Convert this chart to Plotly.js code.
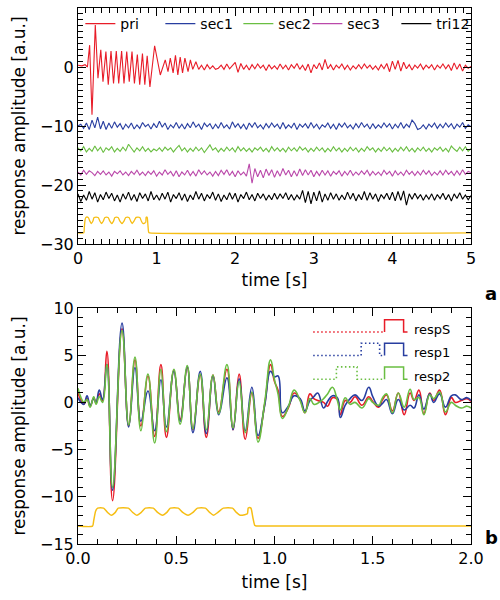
<!DOCTYPE html>
<html><head><meta charset="utf-8">
<script src="https://cdn.plot.ly/plotly-3.0.1.min.js"></script>
<style>html,body{margin:0;padding:0;background:#fff;} #chart{width:500px;height:600px;}</style>
</head><body><div id="chart"></div>
<script>
// ---------------- DATA (panel a) ----------------
const seriesNames = ['pri', 'sec1', 'sec2', 'sec3', 'tri12'];
const gridStep = 1 / 28;          // sampling step [s] of the panel-a traces
// pri: early transient read point by point
const priEarlyT = [0, 0.05, 0.09, 0.12, 0.148, 0.178, 0.22, 0.254, 0.29, 0.318, 0.355, 0.385, 0.42, 0.452, 0.487, 0.518, 0.555, 0.585, 0.62, 0.652, 0.687, 0.718, 0.755, 0.785, 0.82, 0.85, 0.88, 0.915, 0.975, 1.047, 1.11, 1.145, 1.174, 1.21, 1.24, 1.27, 1.30, 1.33, 1.36, 1.40, 1.43, 1.46];
const priEarlyV = [0.3, 0.2, 0.4, 0.0, 3.7, -8.1, 7.1, -1.9, 2.9, -2.5, 2.6, -3.0, 2.7, -2.8, 2.7, -2.8, 2.7, -2.8, 2.6, -2.5, 2.6, -2.8, 2.1, -3.0, 2.3, -3.0, 1.9, -3.4, 3.6, -1.35, 1.2, -0.8, 1.5, -1.0, 2.0, -1.35, 1.7, -1.0, 1.5, -0.8, 1.2, -0.4];
const priLateStart = 1.5;
const priLateV = [0.9, -0.4, 0.3, -0.5, 0.4, -0.3, 0.2, -0.4,
  -0.2, 0.3, -0.4, 0.5, -0.3, 0.2, 0.8, -0.9, 0.6, -0.4,
  0.3, -0.5, 0.4, -0.3, 0.5, -0.2, 0.3, -0.6, 0.4, -0.3,
  0.2, -0.4, 0.5, -0.3, 0.3, -0.5, 0.4, -0.2, 0.6, -0.4,
  0.3, -0.6, 0.5, -1.0, 0.4, -0.3, 0.7, -0.5, 1.3, -0.3,
  0.4, -0.5, 0.3, -0.2, 0.5, -0.4, 0.3, -0.5, 0.2, -0.3,
  0.4, -0.3, 0.5, -0.2, 0.3, -0.4, 0.2, -0.5, 0.4, -0.3,
  0.6, -0.8, 1.0, -0.4, 1.1, -0.7, 0.8, -0.3, 0.4, -0.5,
  0.3, -0.2, 0.5, -0.4, 0.3, -0.2, 0.4, -0.5, 0.3, -0.2,
  0.5, -0.3, 0.4, -0.6, 0.7, -0.4, 0.5, -0.7, 0.3, -0.2,
  0.1];
const sec1V = [0.0, 0.3, -0.4, 0.5, -0.6, 1.0, -0.3, 1.5, -0.5, 0.8,
  -0.6, 0.5, -0.4, 0.7, -0.2, 0.4, -0.6, 0.3, -0.3, 0.5,
  -0.5, 0.2, -0.4, 0.6, -0.1, 0.3, -0.5, 0.4, -0.3, 0.8,
  -0.2, 0.5, -0.6, 0.2, -0.3, 0.6, -0.4, 0.3, -0.5, 0.4,
  -0.3, 0.7, -0.2, 0.3, -0.6, 0.5, -0.1, 0.4, -0.5, 0.3,
  -0.4, 0.6, -0.3, 0.2, -0.5, 0.7, -0.2, 0.4, -0.4, 0.3,
  -0.6, 0.5, -0.2, 0.6, -0.3, 0.2, -0.5, 0.4, -0.3, 0.5,
  -0.2, 0.3, -0.5, 0.6, -0.4, 0.2, -0.3, 0.5, -0.6, 0.3,
  -0.2, 0.4, -0.4, 0.6, -0.3, 0.3, -0.5, 0.2, -0.2, 0.5,
  -0.4, 0.3, -0.6, 0.4, -0.2, 0.5, -0.3, 0.2, -0.5, 0.4,
  -0.3, 0.6, -0.2, 0.3, -0.5, 0.4, -0.4, 0.2, -0.3, 0.5,
  -0.2, 0.4, -0.5, 0.3, -0.3, 0.6, -0.4, 0.3, -0.2, 1.0,
  0.4, -0.6, -0.4, 0.2, -0.5, 0.3, -0.2, 0.5, -0.4, 0.3,
  -0.3, 0.5, -0.2, 0.4, -0.5, 0.3, -0.2, 0.6, -0.4, 0.2,
  -0.1];
const sec2V = [0.3, -0.2, 0.5, -0.4, 0.2, -0.3, 0.6, -0.2, 0.4, -0.5,
  0.3, -0.1, 0.5, -0.4, 0.2, -0.3, 0.4, -0.2, 0.9, 0.2,
  -0.4, 0.3, -0.2, 0.5, -0.3, 0.2, -0.4, 0.1, -0.2, 0.3,
  -0.3, 0.4, -0.1, 0.3, -0.4, 0.2, 0.7, -0.2, 0.3, -0.4,
  0.2, -0.3, 0.4, -0.2, 0.3, -0.5, 0.2, 0.8, -0.1, 0.3,
  -0.4, 0.2, -0.3, 0.4, -0.2, 0.3, -0.4, 0.5, -0.2, 0.3,
  -0.3, 0.2, -0.4, 0.3, -0.1, 0.4, -0.3, 0.2, -0.4, 0.5,
  -0.2, 0.3, -0.3, 0.2, -0.4, 0.4, -0.2, 0.3, -0.3, 0.5,
  -0.1, 0.3, -0.4, 0.2, -0.3, 0.4, -0.2, 0.3, -0.4, 0.2,
  -0.3, 0.5, -0.2, 0.3, -0.4, 0.2, -0.3, 0.4, -0.2, 0.3,
  -0.4, 0.2, -0.3, 0.5, -0.1, 0.3, -0.4, 0.2, -0.3, 0.4,
  -0.2, 0.3, -0.4, 0.2, -0.3, 0.4, -0.2, 0.5, -0.3, 0.2,
  -0.4, 0.3, -0.2, 0.4, -0.3, 0.2, -0.4, 0.3, -0.1, 0.4,
  -0.3, 0.2, -0.4, 0.6, 0.1, -0.3, 0.4, -0.2, 0.5, -0.3,
  0.2];
const sec3V = [0.2, -0.3, 0.5, -0.2, 0.4, 0.1, -0.4, 0.3, -0.2, 0.4,
  -0.3, 0.2, -0.5, 0.3, -0.1, 0.4, -0.3, 0.2, -0.4, 0.3,
  -0.2, 0.5, -0.3, 0.2, -0.4, 0.3, -0.2, 0.4, -0.5, 0.2,
  -0.3, 0.6, -0.2, 0.3, -0.5, 0.4, -0.6, 0.2, -0.3, 0.5,
  -0.4, 0.3, -0.5, 0.6, -0.2, 0.4, -0.3, 0.2, -0.5, 0.3,
  -0.4, 0.5, -0.2, 0.6, -0.4, 0.3, -0.6, 0.4, -0.3, 0.2,
  -0.5, 1.6, -1.7, 0.8, -0.6, 0.5, -0.8, 0.7, -0.4, 0.6,
  -0.7, 0.4, -0.5, 0.8, -0.3, 0.5, -0.6, 0.4, -0.5, 0.7,
  -0.4, 0.6, -0.3, 0.5, -0.6, 0.3, -0.4, 0.5, -0.3, 0.4,
  -0.5, 0.3, -0.2, 0.4, -0.5, 0.3, -0.3, 0.5, -0.4, 0.2,
  -0.3, 0.4, -0.2, 0.5, -0.4, 0.3, -0.3, 0.2, -0.4, 0.5,
  -0.2, 0.3, -0.5, 0.4, -0.3, 0.2, -0.4, 0.5, -0.2, 0.3,
  -0.4, 0.3, -0.3, 0.5, -0.2, 0.4, -0.4, 0.2, -0.3, 0.4,
  -0.3, 0.5, -0.2, 0.3, -0.4, 0.4, -0.3, 0.6, -0.2, 0.3,
  0.1];
const tri12V = [0.5, -0.8, 0.3, -0.6, 0.9, -0.4, 0.7, -0.9, 0.4, -0.5,
  0.8, -0.3, 0.6, -0.7, 0.3, -0.9, 0.5, -0.4, 0.8, -0.6,
  0.4, -0.8, 0.7, -0.3, 0.5, -0.7, 0.9, -0.5, 0.3, -0.6,
  0.6, -0.4, 0.8, -0.9, 0.4, -0.3, 0.7, -0.6, 0.5, -0.8,
  0.3, -0.5, 0.9, -0.4, 0.6, -0.7, 0.4, -0.3, 0.8, -0.6,
  0.5, -0.8, 0.3, -0.5, 0.7, -0.4, 0.6, -0.9, 0.4, -0.3,
  0.8, -0.5, 0.4, -0.7, 0.6, -0.3, 0.5, -0.6, 0.3, -0.5,
  0.6, -0.4, 0.5, -0.3, 0.7, -0.5, 0.4, -0.6, 0.3, -0.4,
  1.1, -1.0, 0.9, -1.2, 0.8, -0.7, 1.0, -0.9, 0.5, -0.6,
  0.7, -0.4, 0.5, -0.6, 0.3, -0.5, 0.8, -0.4, 0.6, -0.7,
  0.4, -0.5, 0.9, -0.6, 0.7, -0.4, 0.5, -0.8, 0.4, -0.3,
  0.6, -0.5, 0.8, -0.7, 0.9, -0.6, 1.0, -1.4, 0.5, -0.4,
  0.6, -0.3, 0.4, -0.6, 0.3, -0.4, 0.5, -0.6, 0.4, -0.3,
  0.6, -0.5, 0.4, -0.7, 0.5, -0.3, 0.7, -0.4, 0.3, -0.5,
  0.2];
// stimulus waveform (relative amplitude, a.u. of panel b)
const stimT = [0, 0.074, 0.080, 0.090, 0.100, 0.130, 0.150, 0.170, 0.190, 0.205, 0.256, 0.278, 0.300, 0.322, 0.343, 0.383, 0.405, 0.430, 0.452, 0.470, 0.510, 0.533, 0.560, 0.585, 0.608, 0.648, 0.670, 0.690, 0.712, 0.740, 0.786, 0.806, 0.825, 0.848, 0.862, 0.866, 0.870, 0.880, 0.890, 0.900, 0.910, 5.0];
const stimV = [0, 0, 0.6, 1.6, 1.9, 1.9, 1.45, 1.15, 1.45, 1.9, 1.9, 1.45, 1.15, 1.45, 1.9, 1.9, 1.45, 1.15, 1.45, 1.9, 1.9, 1.45, 1.15, 1.45, 1.9, 1.9, 1.45, 1.15, 1.45, 1.9, 1.9, 1.45, 1.15, 1.2, 1.3, 1.9, 1.95, 1.9, 0.9, 0.05, 0, 0];

// ---------------- DATA (panel b) ----------------
const respNames = ['respS', 'resp1', 'resp2'];
const respT = [0, 0.015, 0.03, 0.046, 0.062, 0.08, 0.092, 0.108, 0.125, 0.147, 0.176, 0.224, 0.258, 0.29, 0.32, 0.356, 0.39, 0.422, 0.45, 0.488, 0.52, 0.556, 0.585, 0.622, 0.653, 0.687, 0.716, 0.758, 0.789, 0.82, 0.851, 0.885, 0.916, 0.95, 0.98, 1.0, 1.018, 1.04, 1.07, 1.1, 1.13, 1.155, 1.18, 1.2, 1.22, 1.25, 1.27, 1.295, 1.32, 1.335, 1.36, 1.385, 1.41, 1.445, 1.48, 1.5, 1.53, 1.55, 1.57, 1.6, 1.63, 1.66, 1.69, 1.71, 1.735, 1.76, 1.79, 1.81, 1.84, 1.87, 1.9, 1.92, 1.95, 1.98, 2.0];
const respSV = [1.0, 0.2, -0.2, 0.4, -0.4, 0.5, -0.1, 0.9, 0.2, 5.4, -10.4, 7.8, -2.5, 4.5, -2.5, 2.8, -3.6, 4.0, -3.7, 3.4, -1.8, 3.7, -2.9, 2.9, -3.7, 2.9, -1.0, 3.5, -2.9, 3.0, -3.9, 1.0, -3.8, -0.2, 4.0, 2.2, 1.3, -1.5, -0.6, 1.0, 0.3, -1.1, 0.9, 0.4, 0.2, 0.0, -0.4, 0.5, 0.3, -1.3, 0.2, 0.0, 0.6, -0.3, 0.6, 0.1, -0.5, 0.3, 0.8, -0.9, 1.0, -1.3, 1.0, 0.2, 1.3, -1.2, 1.0, 0.2, 1.3, -1.3, 0.5, 0.0, 0.2, 0.4, 0.1];
const resp1V = [0.5, 0.0, -0.2, 0.7, -0.3, 0.4, 0.0, 1.3, 0.3, 4.0, -9.3, 8.4, -2.6, 3.7, -2.0, 1.2, -3.0, 2.4, -2.6, 3.3, -2.0, 3.8, -3.2, 3.3, -3.3, 2.8, -1.3, 2.6, -2.9, 2.5, -3.0, 1.6, -3.5, -0.3, 3.3, 2.7, 2.8, -1.1, -0.4, 0.7, 0.4, -0.9, 0.2, 0.6, 1.0, -0.6, 0.1, 0.7, 0.5, -1.6, -0.3, 0.4, 0.8, 0.2, 1.6, 0.6, -0.4, -0.1, 0.3, -1.2, 0.3, -0.8, -0.3, -0.6, 0.8, -0.7, 0.9, 0.0, 0.9, -0.5, 0.7, 0.8, 0.3, 0.5, 0.2];
const resp2V = [1.5, 0.5, 0.0, 0.3, -0.5, 0.6, -0.2, 0.6, 0.0, 4.0, -9.0, 7.6, -2.4, 4.8, -3.0, 3.0, -4.3, 3.5, -3.1, 3.5, -2.3, 3.9, -2.8, 3.0, -2.9, 2.9, -1.2, 4.0, -2.7, 2.2, -3.2, 1.1, -4.2, 0.0, 4.5, 2.4, 0.9, -1.7, -0.5, 1.3, 0.2, -1.1, 0.4, -0.2, -0.1, 0.4, 0.9, 1.6, 0.2, -0.8, 0.5, -0.2, 0.0, -0.6, 0.4, 0.0, -0.3, 0.5, 0.9, -1.1, 1.0, -0.5, 1.4, 0.3, 0.5, -1.3, 0.8, 0.4, 1.1, -1.0, 0.0, -0.3, -0.6, -0.4, -0.6];
// stimulus-timing schematic beside the panel-b labels
const schemeDotT = {respS: [1.197, 1.560], resp1: [1.197, 1.441, 1.441, 1.535, 1.535, 1.560], resp2: [1.197, 1.315, 1.315, 1.420, 1.420, 1.560]};
const schemeDotV = {respS: [0, 0], resp1: [0, 0, 1.3, 1.3, 0, 0], resp2: [0, 0, 1.3, 1.3, 0, 0]};
const schemeSolidT = [1.560, 1.560, 1.657, 1.657, 1.677];
const schemeSolidV = [0, 1.3, 1.3, 0, 0];

// ---------------- positions & styles ----------------
const offsetsA = {pri: 0, sec1: -10, sec2: -14, sec3: -18, tri12: -22};
const stimA = {offset: -28.1, scale: 1.37};
const stimB = {offset: -13.1, scale: 1.0};
const schemeBase = {respS: 7.45, resp1: 4.97, resp2: 2.46};
const colA = {pri: 'rgb(232,28,40)', sec1: 'rgb(40,62,160)', sec2: 'rgb(106,190,66)', sec3: 'rgb(186,72,170)', tri12: 'rgb(0,0,0)'};
const colB = {respS: 'rgb(232,28,40)', resp1: 'rgb(40,62,160)', resp2: 'rgb(106,190,66)'};
const stimColor = 'rgb(246,190,20)';
const legendW = {pri: 35, sec1: 33, sec2: 24, sec3: 44, tri12: 30};
const FONT = 'DejaVu Sans, Liberation Sans, sans-serif';

function grid(start, n) { const t = []; for (let i = 0; i < n; i++) t.push(start + i * gridStep); return t; }
function shift(arr, off, sc) { return arr.map(v => off + (sc || 1) * v); }

const traces = [];
const valsA = {sec1: sec1V, sec2: sec2V, sec3: sec3V, tri12: tri12V};
const priT = priEarlyT.concat(grid(priLateStart, priLateV.length));
const priV = priEarlyV.concat(priLateV);
seriesNames.forEach(name => {
  let x, y;
  if (name === 'pri') { x = priT; y = priV; }
  else { x = grid(0, valsA[name].length); y = valsA[name]; }
  traces.push({x: x, y: shift(y, offsetsA[name]), xaxis: 'x', yaxis: 'y', type: 'scatter', mode: 'lines',
    name: name, line: {color: colA[name], width: 1.1}, legendwidth: legendW[name], showlegend: true});
});
traces.push({x: stimT, y: shift(stimV, stimA.offset, stimA.scale), xaxis: 'x', yaxis: 'y', mode: 'lines',
  line: {color: stimColor, width: 1.3, shape: 'spline', smoothing: 0.6}, showlegend: false, hoverinfo: 'skip'});

const valsB = {respS: respSV, resp1: resp1V, resp2: resp2V};
respNames.forEach(name => {
  traces.push({x: respT, y: valsB[name], xaxis: 'x2', yaxis: 'y2', mode: 'lines', name: name,
    line: {color: colB[name], width: 1.6, shape: 'spline', smoothing: 1.3}, showlegend: false});
});
traces.push({x: stimT, y: shift(stimV, stimB.offset, stimB.scale), xaxis: 'x2', yaxis: 'y2', mode: 'lines',
  line: {color: stimColor, width: 1.5, shape: 'spline', smoothing: 0.6}, showlegend: false, hoverinfo: 'skip'});
respNames.forEach(name => {
  traces.push({x: schemeDotT[name], y: shift(schemeDotV[name], schemeBase[name]), xaxis: 'x2', yaxis: 'y2', mode: 'lines',
    line: {color: colB[name], width: 1.6, dash: '1.5px,2.5px'}, showlegend: false, hoverinfo: 'skip'});
  traces.push({x: schemeSolidT, y: shift(schemeSolidV, schemeBase[name]), xaxis: 'x2', yaxis: 'y2', mode: 'lines',
    line: {color: colB[name], width: 1.5}, showlegend: false, hoverinfo: 'skip'});
});

function axisStyle(minorDtick) {
  return {showline: true, linecolor: 'black', linewidth: 1, mirror: 'allticks', ticks: 'inside',
    ticklen: 8, tickwidth: 1, tickcolor: 'black', showgrid: false, zeroline: false,
    tickfont: {family: FONT, size: 16, color: 'black'},
    minor: {ticks: 'inside', ticklen: 5, tickcolor: 'black', dtick: minorDtick}};
}
const titleFont = {family: FONT, size: 17, color: 'black'};

const layout = {
  width: 500, height: 600,
  margin: {l: 78, r: 29, t: 8, b: 56},
  paper_bgcolor: 'white', plot_bgcolor: 'white',
  font: {family: FONT, color: 'black'},
  showlegend: true,
  legend: {orientation: 'h', x: 0.006, y: 1, xanchor: 'left', yanchor: 'top', bgcolor: 'rgba(0,0,0,0)',
    font: {family: FONT, size: 14, color: 'black'}, itemwidth: 30, tracegroupgap: 0},
  xaxis: Object.assign(axisStyle(0.1), {domain: [0, 1], anchor: 'y', range: [0, 5], dtick: 1,
    title: {text: 'time [s]', font: titleFont, standoff: 6}}),
  yaxis: Object.assign(axisStyle(1), {domain: [0.5597, 1], anchor: 'x', range: [-30, 10], dtick: 10,
    title: {text: 'response amplitude [a.u.]', font: titleFont, standoff: 10}}),
  xaxis2: Object.assign(axisStyle(0.1), {domain: [0, 1], anchor: 'y2', range: [0, 2], dtick: 0.5,
    tickformat: '.1f', title: {text: 'time [s]', font: titleFont, standoff: 8}}),
  yaxis2: Object.assign(axisStyle(1), {domain: [0, 0.4403], anchor: 'x2', range: [-15, 10], dtick: 5,
    title: {text: 'response amplitude [a.u.]', font: titleFont, standoff: 10}}),
  annotations: [
    {text: '<b>a</b>', xref: 'paper', yref: 'paper', x: 1.03, y: 0.468, xanchor: 'left', yanchor: 'middle', showarrow: false, font: {family: FONT, size: 18, color: 'black'}},
    {text: '<b>b</b>', xref: 'paper', yref: 'paper', x: 1.03, y: 0.013, xanchor: 'left', yanchor: 'middle', showarrow: false, font: {family: FONT, size: 18, color: 'black'}}
  ].concat(respNames.map(name => ({text: name, xref: 'x2', yref: 'y2', x: 1.70, y: schemeBase[name] + 0.3,
    xanchor: 'left', yanchor: 'middle', showarrow: false, font: {family: FONT, size: 13, color: 'black'}})))
};

Plotly.newPlot('chart', traces, layout, {staticPlot: true, displayModeBar: false});
</script>
</body></html>
